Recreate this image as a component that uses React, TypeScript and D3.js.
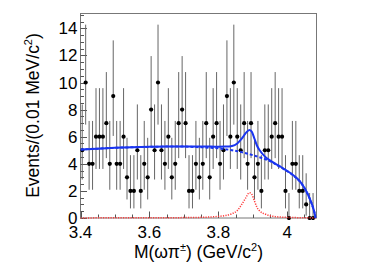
import { useEffect, useRef } from "react";
import * as d3 from "d3";

// events per 0.01 GeV bin, first bin centred at 3.405 GeV
const binStart = 3.405;
const binWidth = 0.01;
const counts = [
  5, 10, 4, 4, 6, 6, 6, 7, 4, 9, 4, 4, 6, 3, 2, 2, 5, 2, 4, 3, 8, 5, 10, 5, 4, 6, 3, 4,
  7, 8, 7, 2, 2, 4, 3, 4, 7, 3, 6, 7, 4, 5, 9, 6, 10, 6, 5, 7, 4, 7, 3, 4, 2, 5, 5, 6,
  7, 6, 6, 2, 0, 4, 4, 2, 2, 1, 0, 0,
];

// poisson 68% interval for n = 0..10 (lookup, indexed by count)
const poissonLow = [0, 0.173, 0.708, 1.367, 2.086, 2.84, 3.62, 4.419, 5.232, 6.057, 6.891];
const poissonHigh = [1.841, 3.3, 4.638, 5.918, 7.163, 8.382, 9.584, 10.77, 11.95, 13.11, 14.27];

// fit curves
const fitMass = [
  3.4, 3.45, 3.5, 3.55, 3.6, 3.65, 3.7, 3.75, 3.78, 3.8, 3.82, 3.84, 3.855, 3.868, 3.88,
  3.89, 3.897, 3.905, 3.912, 3.92, 3.935, 3.95, 3.966, 3.98, 3.995, 4.01, 4.025, 4.037,
  4.048, 4.058, 4.066, 4.072, 4.077, 4.0805, 4.0825,
];
const totalFit = [
  5.05, 5.12, 5.18, 5.22, 5.25, 5.27, 5.27, 5.27, 5.27, 5.26, 5.27, 5.32, 5.5, 5.85, 6.28,
  6.5, 6.38, 5.85, 5.35, 5.0, 4.55, 4.25, 4.0, 3.8, 3.55, 3.3, 3.0, 2.7, 2.3, 1.85, 1.4,
  1.0, 0.6, 0.25, 0,
];
const bkgFit = [
  5.05, 5.12, 5.18, 5.22, 5.25, 5.27, 5.27, 5.22, 5.18, 5.14, 5.08, 5.0, 4.93, 4.86, 4.78,
  4.71, 4.66, 4.6, 4.55, 4.48, 4.35, 4.2, 3.96, 3.77, 3.53, 3.29, 2.99, 2.69, 2.29, 1.84,
  1.39, 0.99, 0.59, 0.25, 0,
];
const signalFit = [
  0, 0.01, 0.01, 0.01, 0.01, 0.02, 0.03, 0.05, 0.08, 0.12, 0.18, 0.32, 0.55, 1.0, 1.5,
  1.87, 1.75, 1.25, 0.8, 0.52, 0.3, 0.17, 0.1, 0.07, 0.05, 0.04, 0.03, 0.02, 0.02, 0.01,
  0.01, 0.01, 0, 0, 0,
];

const xTicks = [3.4, 3.6, 3.8, 4.0];
const xTickLabels = ["3.4", "3.6", "3.8", "4"];
const yTicks = [0, 2, 4, 6, 8, 10, 12, 14];

const FONT = "'Liberation Sans', Arial, Helvetica, sans-serif";

const MassPlot = () => {
  const svgRef = useRef<SVGSVGElement | null>(null);

  useEffect(() => {
    if (!svgRef.current) return;
    const svg = d3.select(svgRef.current);
    svg.selectAll("*").remove();

    const left = 80.5;
    const right = 316.5;
    const top = 13;
    const bottom = 218;

    const x = d3.scaleLinear().domain([3.4, 4.085]).range([left, right]);
    const y = d3.scaleLinear().domain([0, 15.13]).range([bottom, top]);

    svg.append("rect").attr("width", 386).attr("height", 277).attr("fill", "#fff");

    svg
      .append("defs")
      .append("clipPath")
      .attr("id", "plotclip")
      .append("rect")
      .attr("x", left)
      .attr("y", top)
      .attr("width", right - left)
      .attr("height", bottom - top + 2);

    // frame
    svg
      .append("rect")
      .attr("x", left)
      .attr("y", top + 0.5)
      .attr("width", right - left)
      .attr("height", bottom - top - 0.5)
      .attr("fill", "none")
      .attr("stroke", "#777")
      .attr("stroke-width", 1);

    // y ticks
    const yMinor = d3.range(0, 15.01, 0.5);
    svg
      .append("g")
      .selectAll("line")
      .data(yMinor)
      .join("line")
      .attr("x1", left)
      .attr("x2", (d) => (d % 2 === 0 ? left + 6.5 : left + 3.5))
      .attr("y1", (d) => Math.round(y(d)) + 0.5)
      .attr("y2", (d) => Math.round(y(d)) + 0.5)
      .attr("stroke", "#555");

    svg
      .append("g")
      .selectAll("text")
      .data(yTicks)
      .join("text")
      .attr("x", 77.5)
      .attr("y", (d) => y(d) + 6)
      .attr("text-anchor", "end")
      .style("font-family", FONT)
      .style("font-size", "17px")
      .text((d) => d);

    // x ticks
    const xMinor = d3.range(3.4, 4.081, 0.05);
    svg
      .append("g")
      .selectAll("line")
      .data(xMinor)
      .join("line")
      .attr("x1", (d) => Math.round(x(d)) + 0.5)
      .attr("x2", (d) => Math.round(x(d)) + 0.5)
      .attr("y1", bottom)
      .attr("y2", (d, i) => (i % 4 === 0 ? bottom - 6.5 : bottom - 3.5))
      .attr("stroke", "#555");

    svg
      .append("g")
      .selectAll("text")
      .data(xTicks)
      .join("text")
      .attr("x", (d) => x(d))
      .attr("y", 237.5)
      .attr("text-anchor", "middle")
      .style("font-family", FONT)
      .style("font-size", "17px")
      .text((d, i) => xTickLabels[i]);

    // data points with error bars
    const pts = counts.map((n, i) => ({ m: binStart + i * binWidth, n }));
    const data = svg.append("g").attr("clip-path", "url(#plotclip)");
    data
      .selectAll("line")
      .data(pts)
      .join("line")
      .attr("x1", (d) => x(d.m))
      .attr("x2", (d) => x(d.m))
      .attr("y1", (d) => y(poissonLow[d.n]))
      .attr("y2", (d) => y(poissonHigh[d.n]))
      .attr("stroke", "#666")
      .attr("stroke-width", 1);
    data
      .selectAll("circle")
      .data(pts)
      .join("circle")
      .attr("cx", (d) => x(d.m))
      .attr("cy", (d) => y(d.n))
      .attr("r", 2.1)
      .attr("fill", "#000");

    // fit curves
    const curve = (vals: number[]) =>
      d3
        .line<number>()
        .x((d, i) => x(fitMass[i]))
        .y((d) => y(d))
        .curve(d3.curveMonotoneX)(vals);

    const fits = svg.append("g").attr("clip-path", "url(#plotclip)");
    fits
      .append("path")
      .attr("d", curve(signalFit))
      .attr("fill", "none")
      .attr("stroke", "#ff3b3b")
      .attr("stroke-width", 1.5)
      .attr("stroke-dasharray", "1.2,1.3");
    fits
      .append("path")
      .attr("d", curve(bkgFit))
      .attr("fill", "none")
      .attr("stroke", "#1a35f0")
      .attr("stroke-width", 2)
      .attr("stroke-dasharray", "3,2");
    fits
      .append("path")
      .attr("d", curve(totalFit))
      .attr("fill", "none")
      .attr("stroke", "#1a35f0")
      .attr("stroke-width", 2);

    // axis titles
    const xt = svg
      .append("text")
      .attr("x", (left + right) / 2)
      .attr("y", 258)
      .attr("text-anchor", "middle")
      .style("font-family", FONT)
      .style("font-size", "17.5px");
    xt.append("tspan").text("M(ωπ");
    xt.append("tspan").attr("dy", -7).style("font-size", "11px").text("±");
    xt.append("tspan").attr("dy", 7).text(") (GeV/c");
    xt.append("tspan").attr("dy", -7).style("font-size", "11px").text("2");
    xt.append("tspan").attr("dy", 7).text(")");

    const yt = svg
      .append("text")
      .attr("transform", `translate(38.5,${(top + bottom) / 2}) rotate(-90)`)
      .attr("text-anchor", "middle")
      .style("font-family", FONT)
      .style("font-size", "17.5px");
    yt.append("tspan").text("Events/(0.01 MeV/c");
    yt.append("tspan").attr("dy", -7).style("font-size", "11px").text("2");
    yt.append("tspan").attr("dy", 7).text(")");
  }, []);

  return (
    <svg
      ref={svgRef}
      width={386}
      height={277}
      style={{ position: "absolute", left: 0, top: 0 }}
    ></svg>
  );
};

export default function App() {
  return <MassPlot />;
}
